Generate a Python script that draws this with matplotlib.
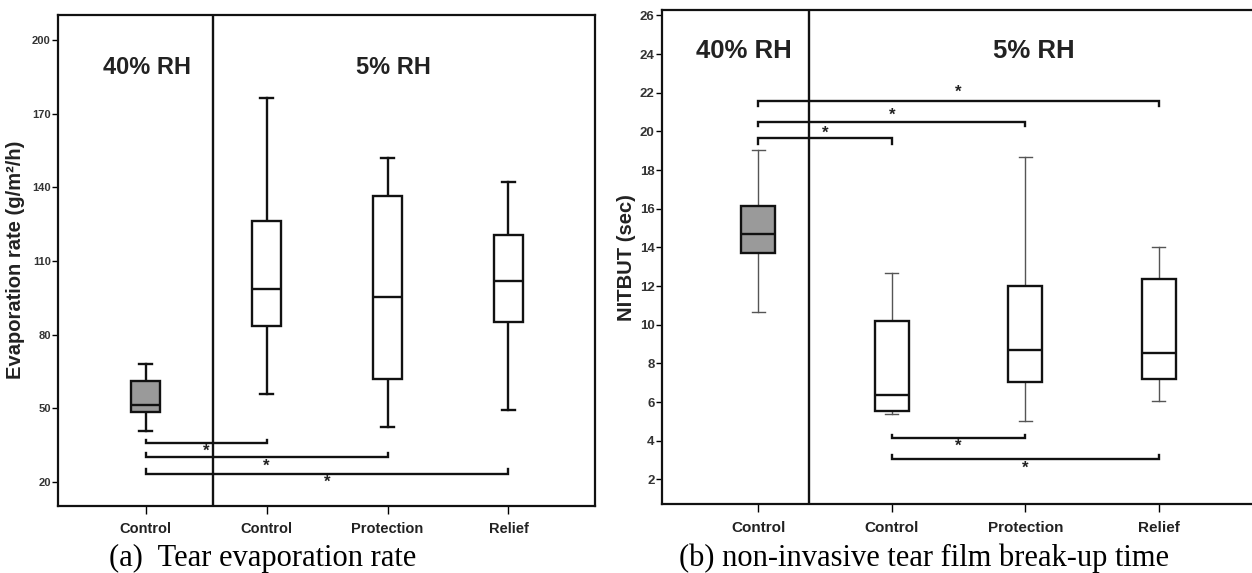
import matplotlib
matplotlib.use("Agg")
import matplotlib.pyplot as plt

plt.rcParams['font.family'] = ['Liberation Sans', 'DejaVu Sans']

categories = ["Control", "Control", "Protection", "Relief"]

# Panel (a): Tear evaporation rate (g/m²/h)
evap_whislo = [40.6, 55.9, 42.5, 49.2]
evap_q1 = [48.5, 83.3, 61.9, 85.0]
evap_med = [51.3, 98.7, 95.3, 101.8]
evap_q3 = [61.1, 126.4, 136.4, 120.6]
evap_whishi = [67.8, 176.3, 151.9, 142.0]
evap_ticks = [20, 50, 80, 110, 140, 170, 200]
# significance brackets: (from, to, bar level, hook end level, star level)
evap_sig = [(0, 1, 35.8, 37.1, 32.4),
            (0, 2, 30.1, 31.5, 26.4),
            (0, 3, 23.2, 25.2, 19.7)]

# Panel (b): NITBUT (sec)
nit_whislo = [10.67, 5.38, 5.02, 6.04]
nit_q1 = [13.70, 5.52, 7.03, 7.21]
nit_med = [14.72, 6.36, 8.69, 8.54]
nit_q3 = [16.15, 10.18, 12.00, 12.36]
nit_whishi = [19.03, 12.68, 18.67, 14.02]
nit_ticks = [2, 4, 6, 8, 10, 12, 14, 16, 18, 20, 22, 24, 26]
nit_sig = [(0, 3, 21.58, 21.31, 22.03),
           (0, 2, 20.50, 20.27, 20.84),
           (0, 1, 19.65, 19.33, 19.90),
           (1, 2, 4.12, 4.31, 3.70),
           (1, 3, 3.08, 3.27, 2.56)]

W, H = 1252, 573
fig = plt.figure(figsize=(W / 100, H / 100), dpi=100)


def px_axes(l, t, r, b):
    return fig.add_axes([l / W, 1 - b / H, (r - l) / W, (b - t) / H])


def draw_panel(ax, lo, q1, med, q3, hi, widths, whisk_lw, whisk_col, cap_w):
    stats = []
    for i in range(len(lo)):
        stats.append(dict(whislo=lo[i], q1=q1[i], med=med[i], q3=q3[i],
                          whishi=hi[i], fliers=[], label=categories[i]))
    bp = ax.bxp(stats, positions=range(len(lo)), widths=widths,
                patch_artist=True, showfliers=False,
                capwidths=cap_w,
                boxprops=dict(linewidth=1.7, edgecolor='#111111'),
                medianprops=dict(linewidth=1.7, color='#111111'),
                whiskerprops=dict(linewidth=whisk_lw, color=whisk_col),
                capprops=dict(linewidth=whisk_lw, color=whisk_col))
    for i, patch in enumerate(bp['boxes']):
        patch.set_facecolor('#9a9a9a' if i == 0 else 'white')
        patch.set_zorder(3)
    for ln in bp['medians']:
        ln.set_zorder(4)
    for sp in ax.spines.values():
        sp.set_linewidth(1.6)
        sp.set_color('#111111')


def draw_sig(ax, sig, fs):
    for a, b, yb, yh, ys in sig:
        ax.plot([a, a, b, b], [yh, yb, yb, yh], color='#111111', lw=1.7,
                solid_joinstyle='miter', zorder=5)
        ax.text((a + b) / 2, ys, '*', ha='center', va='center',
                fontsize=fs, fontweight='bold', color='#222222', zorder=6)


# ---------- Panel (a) ----------
ax1 = px_axes(57.7, 14.6, 595, 505.5)
draw_panel(ax1, evap_whislo, evap_q1, evap_med, evap_q3, evap_whishi,
           0.245, 1.7, '#111111', 0.1)
ax1.set_xlim(-0.726, 3.715)
ax1.set_ylim(10.3, 210.4)
ax1.set_yticks(evap_ticks)
ax1.set_yticklabels([str(t) for t in evap_ticks], fontsize=8, fontweight='bold',
                    color='#333333')
ax1.set_xticks(range(4))
ax1.set_xticklabels(categories, fontsize=10.5, fontweight='bold', color='#222222')
ax1.tick_params(axis='y', length=4, width=1, pad=1)
ax1.tick_params(axis='x', length=6, width=1, pad=6)
ax1.axvline(0.56, color='#111111', lw=1.7, zorder=2)
ax1.set_ylabel('Evaporation rate (g/m²/h)', fontsize=14.5, fontweight='bold',
               color='#222222', labelpad=5)
ax1.text(0.01, 189, '40% RH', ha='center', va='center', fontsize=17,
         fontweight='bold', color='#222222')
ax1.text(2.05, 189, '5% RH', ha='center', va='center', fontsize=17,
         fontweight='bold', color='#222222')
draw_sig(ax1, evap_sig, 12)

# ---------- Panel (b) ----------
ax2 = px_axes(661.5, 10.2, 1256, 504.4)
draw_panel(ax2, nit_whislo, nit_q1, nit_med, nit_q3, nit_whishi,
           0.255, 1.0, '#555555', 0.1)
ax2.spines['right'].set_visible(False)
ax2.set_xlim(-0.725, 3.728)
ax2.set_ylim(0.71, 26.27)
ax2.set_yticks(nit_ticks)
ax2.set_yticklabels([str(t) for t in nit_ticks], fontsize=9.5, fontweight='bold',
                    color='#333333')
ax2.set_xticks(range(4))
ax2.set_xticklabels(categories, fontsize=11, fontweight='bold', color='#222222')
ax2.tick_params(axis='y', length=4, width=1, pad=1)
ax2.tick_params(axis='x', length=6, width=1, pad=6)
ax2.axvline(0.383, color='#111111', lw=1.7, zorder=2)
ax2.set_ylabel('NITBUT (sec)', fontsize=14.5, fontweight='bold',
               color='#222222', labelpad=3)
ax2.text(-0.11, 24.15, '40% RH', ha='center', va='center', fontsize=18.5,
         fontweight='bold', color='#222222')
ax2.text(2.06, 24.15, '5% RH', ha='center', va='center', fontsize=18.5,
         fontweight='bold', color='#222222')
draw_sig(ax2, nit_sig, 12)

# ---------- Captions ----------
fig.text(263 / W, 1 - 566 / H, '(a)  Tear evaporation rate', ha='center',
         va='baseline', fontsize=22, family=['Liberation Serif', 'DejaVu Serif'])
fig.text(924 / W, 1 - 566 / H, '(b) non-invasive tear film break-up time',
         ha='center', va='baseline', fontsize=22,
         family=['Liberation Serif', 'DejaVu Serif'])

fig.savefig('out.png', dpi=100)
